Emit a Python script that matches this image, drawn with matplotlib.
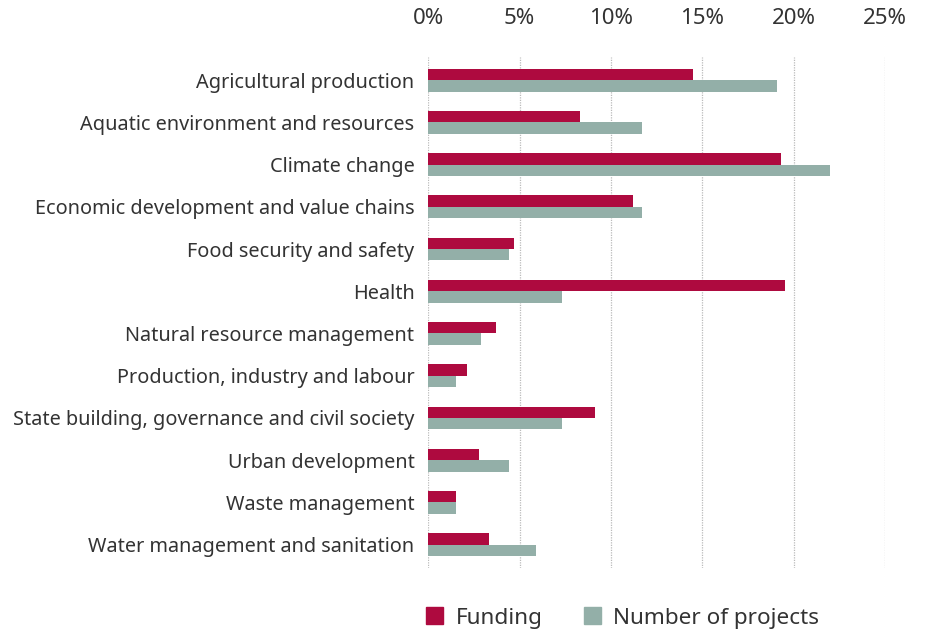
import matplotlib.pyplot as plt
import numpy as np
from matplotlib.patches import Patch

plt.rcParams["font.family"] = ["Noto Sans", "DejaVu Sans"]

categories = [
    "Agricultural production",
    "Aquatic environment and resources",
    "Climate change",
    "Economic development and value chains",
    "Food security and safety",
    "Health",
    "Natural resource management",
    "Production, industry and labour",
    "State building, governance and civil society",
    "Urban development",
    "Waste management",
    "Water management and sanitation",
]
funding = [14.5, 8.3, 19.3, 11.2, 4.7, 19.5, 3.7, 2.1, 9.1, 2.8, 1.5, 3.3]
projects = [19.1, 11.7, 22.0, 11.7, 4.4, 7.3, 2.9, 1.5, 7.3, 4.4, 1.5, 5.9]
xticks = [0, 5, 10, 15, 20, 25]

RED = "#ae0a3f"
GREEN = "#93afa8"
TEXT = "#333333"

fig = plt.figure(figsize=(9.27, 6.33), dpi=100)
ax = fig.add_axes([0.462, 0.103, 0.493, 0.807])

y = np.arange(len(categories))
h = 0.27
ax.barh(y - h / 2, funding, height=h, color=RED, zorder=3)
ax.barh(y + h / 2, projects, height=h, color=GREEN, zorder=3)

ax.set_xlim(0, 25)
ax.set_ylim(len(categories) - 0.5 + 0.05, -0.55)
ax.set_yticks(y)
ax.set_yticklabels(categories, fontsize=14.3, color=TEXT)
ax.set_xticks(xticks)
ax.set_xticklabels([f"{t}%" for t in xticks], fontsize=16, color=TEXT)
ax.xaxis.tick_top()
ax.tick_params(axis="both", length=0)
ax.tick_params(axis="x", pad=20)
ax.tick_params(axis="y", pad=10)
for s in ax.spines.values():
    s.set_visible(False)
ax.grid(axis="x", linestyle=(0, (1, 1)), color="#bbbbbb", linewidth=0.9, zorder=0)

handles = [Patch(color=RED, label="Funding"), Patch(color=GREEN, label="Number of projects")]
fig.legend(handles=handles, loc="lower center", bbox_to_anchor=(0.672, -0.025), ncol=2,
           frameon=False, fontsize=16.2, handlelength=0.75, handleheight=0.75,
           handletextpad=0.55, columnspacing=1.85, labelcolor=TEXT)

fig.savefig("out.png", dpi=100)
